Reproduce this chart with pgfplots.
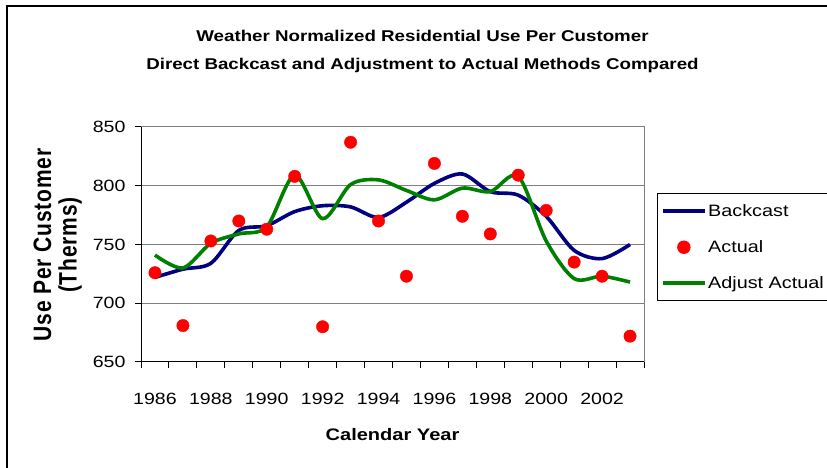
\documentclass[border=0pt]{standalone}
\usepackage{pgfplots}
\usepackage{pgfplotstable}
\pgfplotsset{compat=1.18}
\usepackage{fontspec}
\usepackage{graphicx}
\setmainfont{Liberation Sans}[FakeStretch=1.2]
\newfontfamily\ylabfont{Liberation Sans}[LetterSpace=4]
\definecolor{bnavy}{RGB}{0,0,128}
\definecolor{bgreen}{RGB}{0,128,0}
\definecolor{dred}{RGB}{255,0,0}
\definecolor{gridgray}{RGB}{128,128,128}

\pgfplotstableread{
year back actual adj
1986 722 726 741
1987 729 681 730
1988 734 753 751
1989 762 770 759
1990 766 763 765
1991 778 808 809
1992 783 680 772
1993 782 837 801
1994 773 770 805
1995 786 723 796
1996 802 819 788
1997 810 774 798
1998 795 759 795
1999 792 809 808
2000 774 779 753
2001 745 735 721
2002 738 723 723
2003 750 672 718
}\datatable

\begin{document}
\begin{tikzpicture}[x=1pt,y=1pt]
\useasboundingbox (0,0) rectangle (827,468);
\draw[line width=1.3pt] (7,0) -- (7,462) -- (827,462);
\node[align=center, font=\bfseries\fontsize{15.6}{28}\selectfont] at (422.5,417) {Weather Normalized Residential Use Per Customer\\Direct Backcast and Adjustment to Actual Methods Compared};
\node[anchor=base, font=\bfseries\fontsize{16.7}{16.7}\selectfont] at (392.5,27) {Calendar Year};
\node[rotate=90, font=\ylabfont\bfseries\fontsize{21}{21}\selectfont] at (42.5,223) {\scalebox{1}[1.2]{Use Per Customer}};
\node[rotate=90, font=\ylabfont\bfseries\fontsize{21}{21}\selectfont] at (70,223) {\scalebox{1}[1.2]{(Therms)}};
\begin{axis}[
  at={(141pt,106pt)}, anchor=south west, scale only axis,
  width=503pt, height=235pt,
  xmin=1985.5, xmax=2003.5, ymin=650, ymax=850,
  ytick={650,700,750,800,850},
  xtick={1985.5,1986.5,1987.5,1988.5,1989.5,1990.5,1991.5,1992.5,1993.5,1994.5,1995.5,1996.5,1997.5,1998.5,1999.5,2000.5,2001.5,2002.5,2003.5},
  xticklabels={1986,,1988,,1990,,1992,,1994,,1996,,1998,,2000,,2002,,},
  tick align=outside, tick pos=left, major tick length=6pt,
  axis line style={draw=gridgray, line width=1pt},
  ymajorgrids, grid style={gridgray, line width=1pt},
  tick style={black, line width=1pt},
  ticklabel style={font=\fontsize{16.3}{16.3}\selectfont},
  /pgf/number format/assume math mode=true,
  /pgf/number format/1000 sep={},
  yticklabel style={xshift=-6pt},
  xticklabel style={xshift=13.97pt, yshift=-22pt},
  legend style={at={(axis description cs:1.026,0.719)}, anchor=north west,
    draw=black, line width=1pt, font=\fontsize{16.5}{16.5}\selectfont,
    inner xsep=4pt, inner ysep=9pt, row sep=18.5pt},
  legend cell align=left,
  legend image code/.code={\draw[mark repeat=2,mark phase=2,#1] plot coordinates {(0pt,0pt) (20.5pt,0pt) (41pt,0pt)};},
]
\addplot[bnavy, line width=3.6pt, smooth] table[x=year,y=back] {\datatable};
\addlegendentry{Backcast}
\addlegendimage{only marks, mark=*, mark size=6.2pt, draw=dred, fill=dred}
\addlegendentry{Actual}
\addplot[bgreen, line width=3.6pt, smooth] table[x=year,y=adj] {\datatable};
\addlegendentry{Adjust Actual}
\addplot[only marks, mark=*, mark size=6.2pt, draw=dred, fill=dred, forget plot] table[x=year,y=actual] {\datatable};
\draw[black, line width=1.3pt] (rel axis cs:0,1) -- (rel axis cs:0,0) -- (rel axis cs:1,0);
\end{axis}
\end{tikzpicture}
\end{document}
